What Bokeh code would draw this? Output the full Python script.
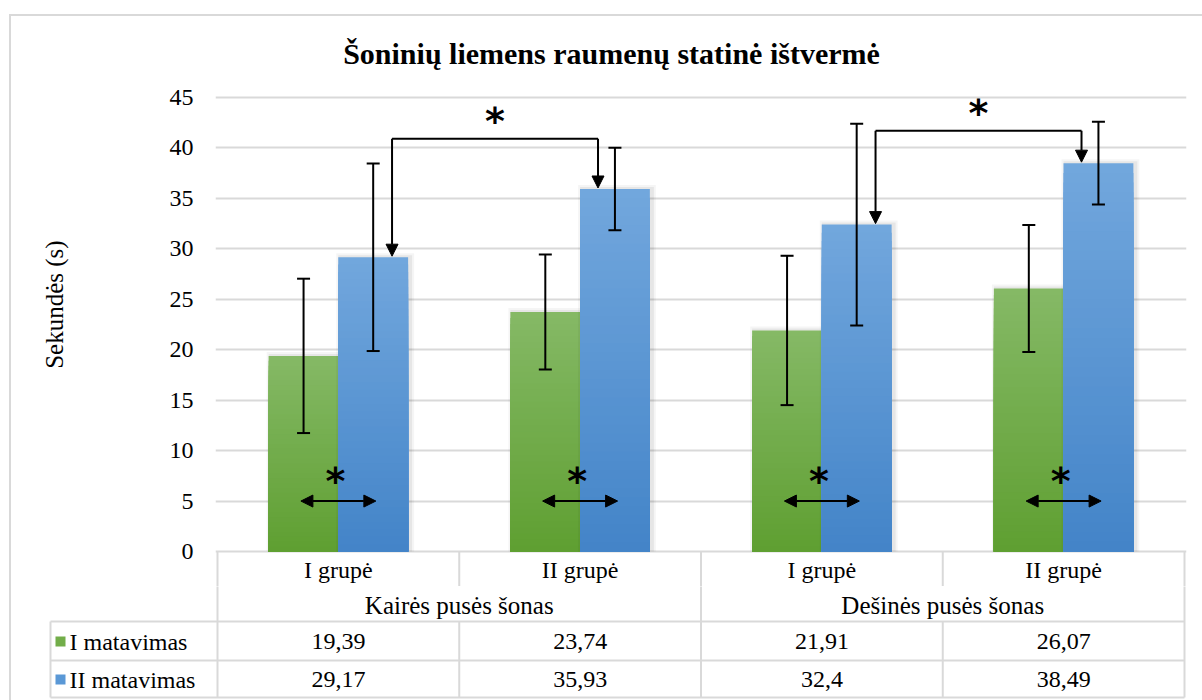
import numpy as np
from bokeh.plotting import figure
from bokeh.layouts import column
from bokeh.models import (Range1d, FixedTicker, ColumnDataSource, Whisker, TeeHead,
                          Arrow, NormalHead)
from bokeh.core.properties import value
from bokeh.embed import file_html
from bokeh.resources import INLINE

# ---------------- data ----------------
title_text = "Šoninių liemens raumenų statinė ištvermė"
y_label = "Sekundės  (s)"
groups = ["Kairės pusės šonas", "Dešinės pusės šonas"]
categories = ["I grupė", "II grupė", "I grupė", "II grupė"]
series_names = ["I matavimas", "II matavimas"]
m1 = [19.39, 23.74, 21.91, 26.07]
m2 = [29.17, 35.93, 32.4, 38.49]
sd1 = [7.65, 5.7, 7.4, 6.3]
sd2 = [9.3, 4.1, 10.0, 4.1]
y_ticks = [0, 5, 10, 15, 20, 25, 30, 35, 40, 45]
sig_pairs = [(0, 1), (2, 3)]          # II matavimas compared between groups
sig_levels = [40.9, 41.7]              # bracket heights (s)
within_sig = [True, True, True, True]  # I vs II matavimas within each category

# ---------------- layout helpers (page pixels -> data) ----------------
X0, PXU = 217.0, 241.75
Y0, PYU = 551.0, 454.0 / 45.0
def dx(px): return (px - X0) / PXU
def dy(py): return (Y0 - py) / PYU

OX, OY = 11, 16          # origin of the figures inside the bordered chart area
SPLIT = 586              # page y where the lower table figure starts
GRID = "#D9D9D9"
SERIF = "Liberation Serif"
GREEN_TOP, GREEN_BOT = (133, 185, 102), (95, 159, 49)
BLUE_TOP, BLUE_BOT = (114, 167, 221), (67, 132, 200)
GREEN_MID, BLUE_MID = "#72ad49", "#5a98d6"

def no_align(fig):
    if "frame_align" in fig.properties():
        fig.frame_align = False

# ================= chart figure =================
p = figure(width=1202 - OX, height=SPLIT - OY, output_backend="svg", toolbar_location=None,
           x_range=Range1d(dx(215), dx(1186)), y_range=Range1d(dy(SPLIT), dy(OY)),
           min_border_left=215 - OX, min_border_right=16, min_border_top=0, min_border_bottom=0,
           x_axis_location=None, title=None)
no_align(p)
p.outline_line_color = None
p.background_fill_color = "white"
p.border_fill_color = "white"
p.xgrid.visible = False
p.yaxis.ticker = FixedTicker(ticks=y_ticks)
p.ygrid.grid_line_color = GRID
p.ygrid.grid_line_width = 2
yax = p.yaxis[0]
yax.axis_line_color = None
yax.major_tick_line_color = None
yax.minor_tick_line_color = None
yax.major_tick_in = 0
yax.major_tick_out = 0
yax.major_label_standoff = 22
yax.major_label_text_font = SERIF
yax.major_label_text_font_size = "24px"
yax.major_label_text_color = "black"
yax.axis_label = y_label
yax.axis_label_text_font = SERIF
yax.axis_label_text_font_size = "25px"
yax.axis_label_text_font_style = "normal"
yax.axis_label_text_color = "black"
yax.axis_label_standoff = 99

# title (inside the chart canvas)
p.text(x=[dx(611)], y=[dy(53)], text=[title_text], text_font=value(SERIF),
       text_font_style="bold", text_font_size="30px", text_align="center",
       text_baseline="middle", text_color="black")

# ---------------- bars (vertical gradient) ----------------
centers = np.arange(len(categories)) + 0.5
off, bw = 0.144, 0.289
N = 40

def lerp(c0, c1, t):
    return "#%02x%02x%02x" % tuple(int(round(a + (b - a) * t)) for a, b in zip(c0, c1))

for vals, sign, top_c, bot_c, nm in [(m1, -1, GREEN_TOP, GREEN_BOT, series_names[0]),
                                     (m2, 1, BLUE_TOP, BLUE_BOT, series_names[1])]:
    xs = centers + sign * off
    for k, a in [(8, 0.04), (4, 0.06)]:
        p.vbar(x=xs + 2 / PXU, width=bw + k / PXU, top=np.array(vals) + k / 2 / PYU,
               bottom=0, fill_color="black", fill_alpha=a, line_color=None)
    sx, st, sc = [], [], []
    for j in range(N - 1, -1, -1):
        for x, v in zip(xs, vals):
            sx.append(x); st.append(v * (j + 1) / N)
            sc.append(lerp(bot_c, top_c, (j + 0.5) / N))
    p.vbar(x="x", bottom=0, top="t", width=bw, fill_color="c", line_color=None,
           source=ColumnDataSource(dict(x=sx, t=st, c=sc)), name=nm)

# ---------------- error bars ----------------
for vals, sds, sign in [(m1, sd1, -1), (m2, sd2, 1)]:
    src = ColumnDataSource(dict(x=centers + sign * off,
                                up=[v + s for v, s in zip(vals, sds)],
                                lo=[v - s for v, s in zip(vals, sds)]))
    p.add_layout(Whisker(source=src, base="x", upper="up", lower="lo", line_width=2,
                         line_color="black", level="overlay",
                         upper_head=TeeHead(size=13, line_width=2, line_color="black"),
                         lower_head=TeeHead(size=13, line_width=2, line_color="black")))

# ---------------- significance marks ----------------
AST_FONT = "DejaVu Sans"
for (i, j), lvl in zip(sig_pairs, sig_levels):
    xl = centers[i] + off + 0.078
    xr = centers[j] + off - 0.07
    p.segment(x0=[xl], y0=[lvl], x1=[xr], y1=[lvl], line_color="black", line_width=2)
    for xx, v in [(xl, m2[i]), (xr, m2[j])]:
        p.add_layout(Arrow(x_start=xx, y_start=lvl, x_end=xx, y_end=v + 0.1,
                           line_width=2, line_color="black", level="overlay",
                           end=NormalHead(size=12, fill_color="black", line_color="black")))
    p.text(x=[(xl + xr) / 2], y=[lvl + 1.75], text=["*"], text_font=value(AST_FONT),
           text_font_style="bold", text_font_size="38px", text_align="center",
           text_baseline="middle", text_color="black")

for c, s in zip(centers, within_sig):
    if not s:
        continue
    p.add_layout(Arrow(x_start=c - 0.155, y_start=5, x_end=c + 0.155, y_end=5,
                       line_width=2, line_color="black", level="overlay",
                       start=NormalHead(size=12, fill_color="black", line_color="black"),
                       end=NormalHead(size=12, fill_color="black", line_color="black")))
    p.text(x=[c - 0.012], y=[7.0], text=["*"], text_font=value(AST_FONT),
           text_font_style="bold", text_font_size="38px", text_align="center",
           text_baseline="middle", text_color="black")

# ---------------- data table: category row (inside the chart figure) ----------------
n = len(categories)
y_top, y_cat, y_v1, y_v2, y_bot = dy(551), dy(585), dy(621), dy(660), dy(697)
p.segment(x0=list(range(n + 1)), y0=[y_top] * (n + 1), x1=list(range(n + 1)),
          y1=[dy(SPLIT + 2)] * (n + 1), line_color=GRID, line_width=2)
tf = value(SERIF)
p.text(x=centers, y=[dy(569)] * n, text=categories, text_font=tf, text_font_size="24px",
       text_align="center", text_baseline="middle", text_color="black")

# ================= data table figure (lower rows) =================
t = figure(width=1202 - OX, height=700 - SPLIT, output_backend="svg", toolbar_location=None,
           x_range=Range1d(dx(OX), dx(1202)), y_range=Range1d(dy(700), dy(SPLIT)),
           min_border_left=0, min_border_right=0, min_border_top=0, min_border_bottom=0,
           x_axis_location=None, y_axis_location=None, title=None)
no_align(t)
t.outline_line_color = None
t.grid.visible = False
t.background_fill_color = "white"
t.border_fill_color = "white"

xh = dx(50)
vx0, vy0, vx1, vy1 = [], [], [], []
for k in range(n + 1):
    if k in (0, n // 2, n):
        vx0 += [k]; vy0 += [dy(SPLIT - 2)]; vx1 += [k]; vy1 += [y_bot]
    else:
        vx0 += [k]; vy0 += [y_v1]; vx1 += [k]; vy1 += [y_bot]
for yy in (y_v1, y_v2, y_bot):
    vx0 += [xh]; vy0 += [yy]; vx1 += [n]; vy1 += [yy]
vx0 += [xh]; vy0 += [y_v1]; vx1 += [xh]; vy1 += [y_bot]
t.segment(x0=vx0, y0=vy0, x1=vx1, y1=vy1, line_color=GRID, line_width=2)

def ttext(xs, ys, txt, align="center", size="24px"):
    t.text(x=xs, y=ys, text=txt, text_font=tf, text_font_size=size,
           text_align=align, text_baseline="middle", text_color="black")

ttext([n / 4, 3 * n / 4], [dy(605)] * 2, groups, size="25px")
fmt = lambda v: ("%g" % v).replace(".", ",")
ttext(list(centers), [dy(641)] * n, [fmt(v) for v in m1])
ttext(list(centers), [dy(679)] * n, [fmt(v) for v in m2])

# row headers with legend keys
row_y = [dy(641), dy(679)]
t.rect(x=[dx(60)] * 2, y=row_y, width=10 / PXU, height=10 / PYU,
       fill_color=[GREEN_MID, BLUE_MID], line_color=None)
ttext([dx(69)] * 2, row_y, series_names, align="left")

layout = column(p, t, spacing=0, margin=(14, 0, 0, 9),
                styles={"border-top": "2px solid #D9D9D9", "border-left": "2px solid #D9D9D9"})

open("out.html", "w").write(file_html(layout, INLINE))
